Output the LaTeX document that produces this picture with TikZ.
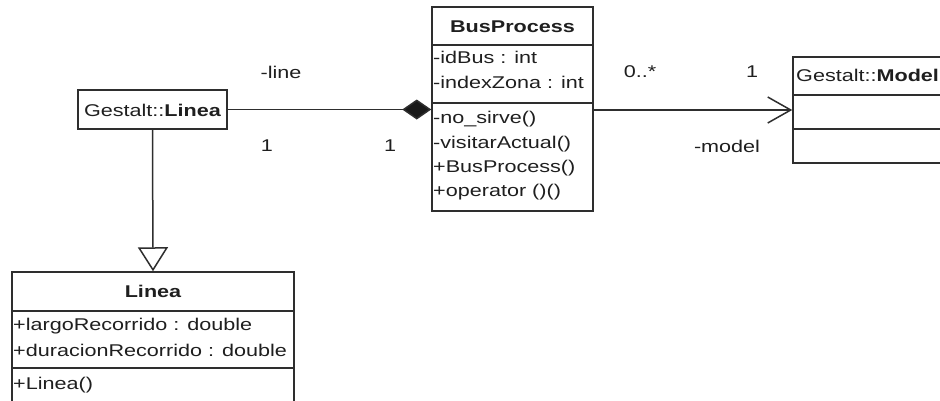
\documentclass[tikz,border=0pt]{standalone}
\usepackage{fontspec}
\setmainfont{Liberation Sans}[FakeStretch=1.27]
\usetikzlibrary{arrows.meta}
\begin{document}
\begin{tikzpicture}[x=1pt,y=-1pt,
  font=\fontsize{17}{20}\selectfont,
  umlline/.style={draw=black!82, line width=1.5pt},
  classbox/.style={umlline, fill=white, inner sep=0pt},
  member/.style={anchor=base west, inner sep=0pt, text=black!88},
  ctitle/.style={anchor=base, inner sep=0pt, font=\fontsize{17}{20}\selectfont\bfseries, text=black!88},
  rolelabel/.style={inner sep=0pt, text=black!88}]
\useasboundingbox (0,0) rectangle (940,400);
\clip (0,0) rectangle (940,400);
\fill[white] (0,0) rectangle (940,400);

% class boxes
\node[classbox, minimum width=161pt, minimum height=204pt] (bp) at (512.5,109) {};
\node[classbox, minimum width=149pt, minimum height=39pt] (gl) at (152.5,109.5) {};
\node[classbox, minimum width=282pt, minimum height=132pt] (ln) at (153,338) {};
\node[classbox, minimum width=172pt, minimum height=106pt] (md) at (879,110) {};

% compartment dividers
\draw[umlline] (bp.west |- 0,45) -- (bp.east |- 0,45);
\draw[umlline] (bp.west |- 0,103) -- (bp.east |- 0,103);
\draw[umlline] (ln.west |- 0,311) -- (ln.east |- 0,311);
\draw[umlline] (ln.west |- 0,368) -- (ln.east |- 0,368);
\draw[umlline] (md.west |- 0,95) -- (md.east |- 0,95);
\draw[umlline] (md.west |- 0,129) -- (md.east |- 0,129);

% BusProcess
\node[ctitle] (bpname) at (512.5,32) {BusProcess};
\node[member] (bpa1) at (433,63) {-idBus : int};
\node[member] (bpa2) at (433,88) {-indexZona : int};
\node[member] (bpo1) at (433,123) {-no\_sirve()};
\node[member] (bpo2) at (433,148) {-visitarActual()};
\node[member] (bpo3) at (433,172) {+BusProcess()};
\node[member] (bpo4) at (433,196) {+operator ()()};

% Gestalt::Linea
\node[member, anchor=base] (glname) at (152.5,116) {Gestalt::\textbf{Linea}};

% Linea
\node[ctitle] (lnname) at (153,297) {Linea};
\node[member] (lna1) at (13,330) {+largoRecorrido : double};
\node[member] (lna2) at (13,356) {+duracionRecorrido : double};
\node[member] (lno1) at (13,389) {+Linea()};

% Gestalt::Model
\node[member] (mdname) at (796,81) {Gestalt::\textbf{Model}};

% composition
\coordinate (bpin) at (bp.west |- gl.east);
\draw[umlline, -{Diamond[length=29pt,width=20pt,fill=black!90]}] (gl.east) -- (bpin);
\node[rolelabel] (lrole) at (281,72) {-line};
\node[rolelabel] (lm1) at (267,146) {1};
\node[rolelabel] (lm2) at (390,146) {1};

% directed association
\coordinate (bpout) at (bp.east |- md.west);
\draw[umlline, -{Straight Barb[length=23pt,width=26pt]}] (bpout) -- (md.west);
\node[rolelabel] (mm1) at (640,72) {0..*};
\node[rolelabel] (mm2) at (752,72) {1};
\node[rolelabel] (mrole) at (727,146) {-model};

% generalization
\draw[umlline, -{Triangle[length=24pt,width=30pt,fill=white]}] (gl.south) -- (ln.north);
\end{tikzpicture}
\end{document}
